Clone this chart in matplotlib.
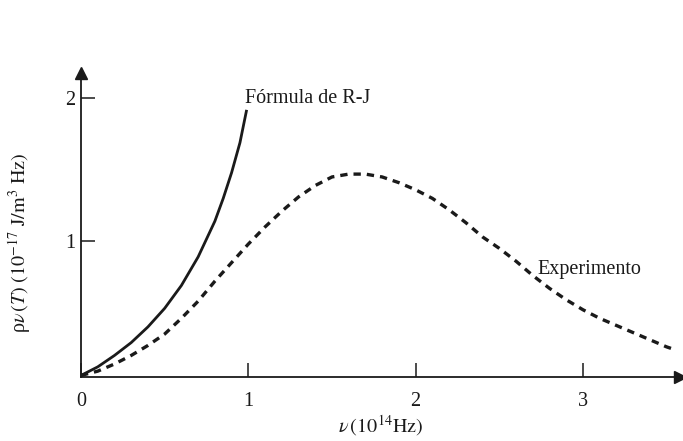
import matplotlib
matplotlib.use("Agg")
import matplotlib.pyplot as plt

plt.rcParams['font.family'] = ['Liberation Serif', 'DejaVu Serif']
plt.rcParams['mathtext.fontset'] = 'stix'

# Rayleigh-Jeans curve
rj_x = [0.0, 0.1, 0.2, 0.3, 0.4, 0.5, 0.6, 0.7, 0.8, 0.85, 0.9, 0.95, 0.99]
rj_y = [0.06, 0.12, 0.20, 0.29, 0.40, 0.53, 0.69, 0.89, 1.14, 1.30, 1.48, 1.69, 1.92]

exp_x = [0.0, 0.1, 0.2, 0.3, 0.4, 0.5, 0.6, 0.7, 0.8, 0.9, 1.0, 1.1, 1.2, 1.3,
         1.4, 1.5, 1.6, 1.7, 1.8, 1.9, 2.0, 2.1, 2.2, 2.3, 2.4, 2.5, 2.6, 2.7,
         2.8, 2.9, 3.0, 3.1, 3.2, 3.3, 3.4, 3.5, 3.55]
exp_y = [0.06, 0.09, 0.14, 0.20, 0.27, 0.35, 0.46, 0.58, 0.72, 0.85, 0.98, 1.10,
         1.21, 1.31, 1.39, 1.45, 1.47, 1.47, 1.45, 1.41, 1.36, 1.30, 1.22, 1.13,
         1.03, 0.95, 0.86, 0.76, 0.67, 0.59, 0.52, 0.46, 0.41, 0.36, 0.31, 0.26,
         0.24]

x_ticks = [0, 1, 2, 3]
x_tick_labels = ['0', '1', '2', '3']
y_ticks = [1, 2]
y_tick_labels = ['1', '2']

ink = '#1a1a1a'

fig = plt.figure(figsize=(6.83, 4.41), dpi=100)
ax = fig.add_axes([0.1186, 0.1451, 0.877, 0.690])

ax.plot(rj_x, rj_y, color=ink, lw=2.0, solid_capstyle='butt')
ax.plot(exp_x, exp_y, color=ink, lw=2.4, linestyle=(0, (2.2, 1.8)))

ax.set_xlim(0, 3.58)
ax.set_ylim(0.049, 2.18)

for s in ['top', 'right']:
    ax.spines[s].set_visible(False)
for s in ['left', 'bottom']:
    ax.spines[s].set_linewidth(1.3)
    ax.spines[s].set_color(ink)

ax.set_xticks(x_ticks)
ax.set_xticklabels(x_tick_labels)
ax.set_yticks(y_ticks)
ax.set_yticklabels(y_tick_labels)
ax.tick_params(axis='both', direction='in', length=10, width=1.1, color=ink,
               labelsize=14.5, labelcolor=ink)
ax.tick_params(axis='x', pad=11)
ax.tick_params(axis='y', pad=4)

# arrow heads
ax.plot([1], [0], marker='>', ms=9, color=ink, transform=ax.transAxes, clip_on=False)
ax.plot([0], [1], marker='^', ms=9, color=ink, transform=ax.transAxes, clip_on=False)

ax.text(0.98, 2.0, 'Fórmula de R-J', fontsize=14.5, color=ink, ha='left', va='center')
ax.text(2.73, 0.80, 'Experimento', fontsize=14.5, color=ink, ha='left', va='center')

ax.set_xlabel(r'$\nu\,(10^{14}\mathrm{Hz})$', fontsize=14.5, color=ink, labelpad=1)
ax.set_ylabel('ρ$\\nu\\,(T)\\;(10^{-17}\\ \\mathrm{J/m^3\\ Hz})$', fontsize=14.5,
              color=ink)
ax.yaxis.set_label_coords(-0.08, 0.44)

fig.savefig('out.png', dpi=100)
